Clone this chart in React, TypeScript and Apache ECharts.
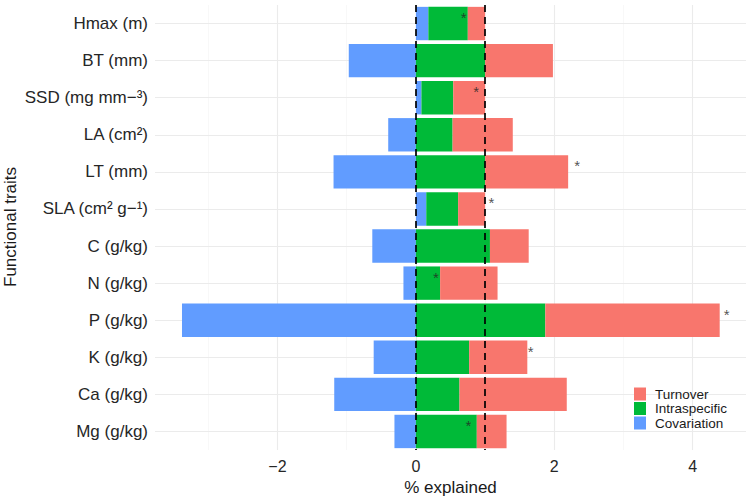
import React, { useEffect, useRef } from "react";
import * as echarts from "echarts";

const traits = [
  "Hmax (m)",
  "BT (mm)",
  "SSD (mg mm\u2212\u00b3)",
  "LA (cm\u00b2)",
  "LT (mm)",
  "SLA (cm\u00b2 g\u2212\u00b9)",
  "C (g/kg)",
  "N (g/kg)",
  "P (g/kg)",
  "K (g/kg)",
  "Ca (g/kg)",
  "Mg (g/kg)",
];

const covariation = [0.18, -0.97, 0.08, -0.4, -1.19, 0.15, -0.63, -0.18, -3.38, -0.61, -1.18, -0.31];
const intraspecific = [0.57, 1.0, 0.46, 0.53, 1.0, 0.46, 1.07, 0.35, 1.87, 0.77, 0.63, 0.88];
const turnover = [0.25, 0.98, 0.46, 0.87, 1.2, 0.39, 0.56, 0.83, 2.52, 0.84, 1.55, 0.43];

const sigTraits = ["Hmax (m)", "SSD (mg mm\u2212\u00b3)", "LT (mm)", "SLA (cm\u00b2 g\u2212\u00b9)", "N (g/kg)", "P (g/kg)", "K (g/kg)", "Mg (g/kg)"];
const sigX = [0.69, 0.87, 2.33, 1.09, 0.29, 4.49, 1.66, 0.76];

const xTicks = [-2, 0, 2, 4];
const xMinor = [-3, -1, 1, 3];
const refLines = [0, 1];

const FONT = "'Liberation Sans', Arial, Helvetica, sans-serif";

export default function App() {
  const ref = useRef<HTMLDivElement>(null);
  useEffect(() => {
    if (!ref.current) return;
    const chart = echarts.init(ref.current, undefined, { renderer: "svg" });
    const option: any = {
      animation: false,
      backgroundColor: "#ffffff",
      textStyle: { fontFamily: FONT },
      grid: { left: 155, right: 3, top: 5, bottom: 47, containLabel: false, outerBoundsMode: "none" },
      graphic: [
        {
          type: "text",
          x: 10,
          y: 227,
          rotation: Math.PI / 2,
          silent: true,
          style: {
            text: "Functional traits",
            fontSize: 17,
            fontFamily: FONT,
            fill: "#1a1a1a",
            align: "center",
            verticalAlign: "middle",
          },
        },
      ],
      legend: {
        data: ["Turnover", "Intraspecific", "Covariation"],
        orient: "vertical",
        left: 634,
        top: 387,
        padding: 0,
        icon: "rect",
        itemWidth: 12,
        itemHeight: 13,
        itemGap: 0.5,
        textStyle: { fontSize: 13.5, lineHeight: 13, color: "#1a1a1a", fontFamily: FONT, padding: [0, 0, 0, 4] },
      },
      xAxis: {
        type: "value",
        min: -3.77,
        max: 4.77,
        splitLine: { show: false },
        axisLine: { show: false },
        axisTick: { show: false },
        axisLabel: {
          customValues: xTicks,
          fontSize: 16,
          color: "#262626",
          margin: 8,
          formatter: (v: number) => (v < 0 ? "\u2212" + Math.abs(v) : String(v)),
        },
        name: "% explained",
        nameLocation: "middle",
        nameGap: 27,
        nameTextStyle: { fontSize: 17, color: "#1a1a1a" },
      },
      yAxis: {
        type: "category",
        data: traits,
        inverse: true,
        axisLine: { show: false },
        axisTick: { show: false },
        splitLine: { show: false },
        axisLabel: { fontSize: 17, color: "#262626", margin: 7 },
      },
      series: [
        {
          name: "grid",
          type: "scatter",
          data: [],
          z: 0,
          silent: true,
          markLine: {
            silent: true,
            z: 0,
            symbol: "none",
            label: { show: false },
            animation: false,
            data: [
              ...xTicks.map((v) => ({ xAxis: v, lineStyle: { color: "#ebebeb", width: 1.1, type: "solid" } })),
              ...xMinor.map((v) => ({ xAxis: v, lineStyle: { color: "#f3f3f3", width: 0.6, type: "solid" } })),
              ...traits.map((t, i) => ({ yAxis: i, lineStyle: { color: "#ebebeb", width: 1.1, type: "solid" } })),
            ],
          },
        },
        {
          name: "Covariation",
          type: "bar",
          stack: "total",
          data: covariation,
          barWidth: "90%",
          itemStyle: { color: "#619CFF" },
          z: 2,
        },
        {
          name: "Intraspecific",
          type: "bar",
          stack: "total",
          data: intraspecific,
          barWidth: "90%",
          itemStyle: { color: "#00BA38" },
          z: 2,
        },
        {
          name: "Turnover",
          type: "bar",
          stack: "total",
          data: turnover,
          barWidth: "90%",
          itemStyle: { color: "#F8766D" },
          z: 2,
        },
        {
          name: "refs",
          type: "scatter",
          data: [],
          z: 5,
          silent: true,
          markLine: {
            silent: true,
            z: 5,
            symbol: "none",
            label: { show: false },
            animation: false,
            lineStyle: { color: "#000000", width: 1.7, type: [7, 5] },
            data: refLines.map((v) => ({ xAxis: v })),
          },
        },
        {
          name: "sig",
          type: "scatter",
          z: 6,
          silent: true,
          symbolSize: 0,
          data: sigX.map((x, i) => [x, sigTraits[i]]),
          label: {
            show: true,
            formatter: "*",
            position: "inside",
            offset: [0, -6],
            fontSize: 15,
            color: "#262626",
            fontFamily: FONT,
          },
        },
      ],
    };
    chart.setOption(option);
    return () => chart.dispose();
  }, []);
  return (
    <div
      ref={ref}
      style={{ position: "fixed", left: 0, top: 0, width: 749, height: 497, background: "#fff" }}
    />
  );
}
